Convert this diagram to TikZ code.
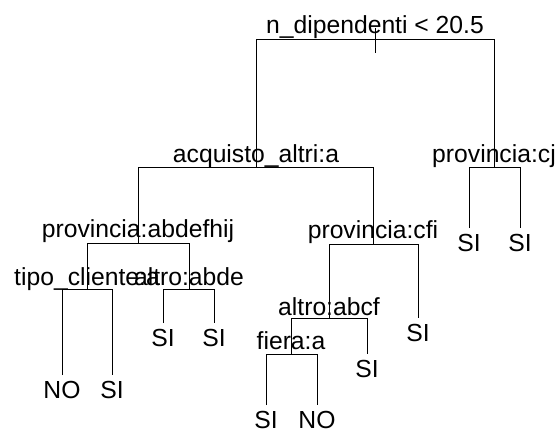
\documentclass[tikz,border=0pt]{standalone}
\usepackage{fontspec}
\setmainfont{Liberation Sans}
\begin{document}
\begin{tikzpicture}[x=1pt,y=-1pt,
  lbl/.style={anchor=base,inner sep=0pt,font=\fontsize{24.7}{28}\selectfont},
  edge/.style={draw=black,line width=0.9pt}]
\useasboundingbox[fill=white] (0,0) rectangle (556,428);
% split points (on the horizontal bars) and leaf ends
\coordinate (root) at (375,39);
\coordinate (acq) at (256,167);
\coordinate (cj) at (494,167);
\coordinate (pab) at (138,243);
\coordinate (cfi) at (373,244);
\coordinate (tipo) at (87,289);
\coordinate (abde) at (189,289);
\coordinate (abcf) at (329,318);
\coordinate (cfiR) at (418,318);
\coordinate (fiera) at (291,354);
\coordinate (abcfR) at (367,354);
\coordinate (fL) at (266,405);
\coordinate (fR) at (317,405);
\coordinate (tL) at (62,375);
\coordinate (tR) at (112,375);
\coordinate (aL) at (163,323);
\coordinate (aR) at (214,323);
\coordinate (cL) at (469,228);
\coordinate (cR) at (520,228);
\coordinate (tickT) at (375,28);
\coordinate (tickB) at (375,53);
% split labels
\node[lbl] (lroot) at ([yshift=5.5pt]root) {n\_dipendenti < 20.5};
\node[lbl] (lacq) at ([yshift=5pt]acq) {acquisto\_altri:a};
\node[lbl] (lcj) at ([yshift=5pt]cj) {provincia:cj};
\node[lbl] (lpab) at ([yshift=5.5pt]pab) {provincia:abdefhij};
\node[lbl] (lcfi) at ([yshift=6pt]cfi) {provincia:cfi};
\node[lbl] (ltipo) at ([yshift=4pt]tipo) {tipo\_cliente:a};
\node[lbl] (labde) at ([yshift=4pt]abde) {altro:abde};
\node[lbl] (labcf) at ([yshift=3pt]abcf) {altro:abcf};
\node[lbl] (lfiera) at ([yshift=5pt]fiera) {fiera:a};
% leaf labels
\foreach \c/\t in {fL/SI,fR/NO,tL/NO,tR/SI,aL/SI,aR/SI,cL/SI,cR/SI,cfiR/SI,abcfR/SI}{
  \node[lbl] (leaf\c) at ([yshift=-23.5pt]\c) {\t};
}
% connectors
\draw[edge] (tickT) -- (tickB);
\draw[edge] (acq) -- (acq |- root) -- (cj |- root) -- (cj);
\draw[edge] (pab) -- (pab |- acq) -- (cfi |- acq) -- (cfi);
\draw[edge] (cL) -- (cL |- cj) -- (cR |- cj) -- (cR);
\draw[edge] (tipo) -- (tipo |- pab) -- (abde |- pab) -- (abde);
\draw[edge] (abcf) -- (abcf |- cfi) -- (cfiR |- cfi) -- (cfiR);
\draw[edge] (tL) -- (tL |- tipo) -- (tR |- tipo) -- (tR);
\draw[edge] (aL) -- (aL |- abde) -- (aR |- abde) -- (aR);
\draw[edge] (fiera) -- (fiera |- abcf) -- (abcfR |- abcf) -- (abcfR);
\draw[edge] (fL) -- (fL |- fiera) -- (fR |- fiera) -- (fR);
\end{tikzpicture}
\end{document}
